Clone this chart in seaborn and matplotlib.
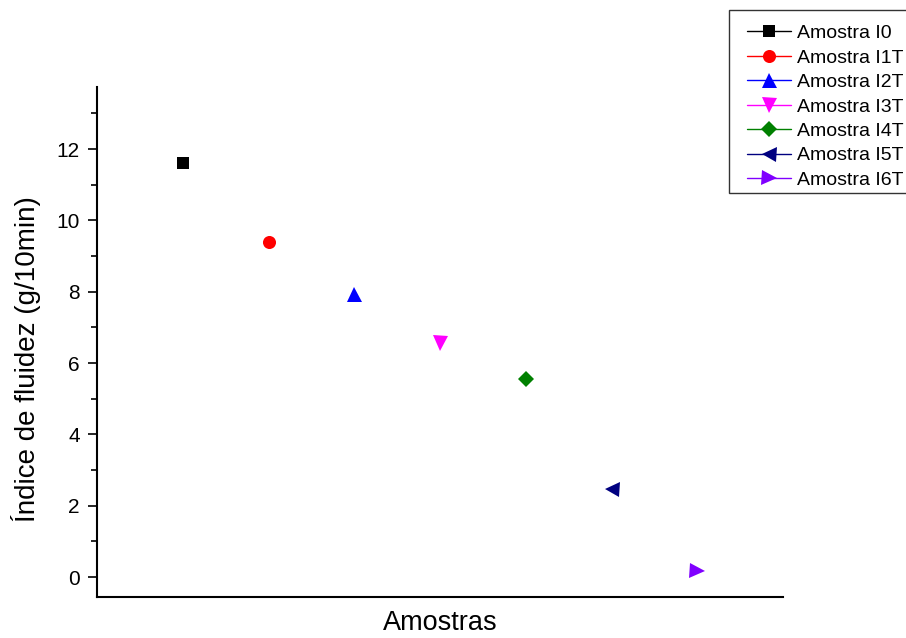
import matplotlib
matplotlib.use("Agg")
import matplotlib.pyplot as plt
import seaborn as sns
import pandas as pd
from matplotlib.ticker import MultipleLocator
from matplotlib.lines import Line2D
from matplotlib.legend_handler import HandlerLine2D

samples = ["Amostra I0", "Amostra I1T", "Amostra I2T", "Amostra I3T", "Amostra I4T", "Amostra I5T", "Amostra I6T"]
positions = [1, 2, 3, 4, 5, 6, 7]
values = [11.6, 9.4, 7.93, 6.55, 5.55, 2.48, 0.18]
colors = ["#000000", "#FF0000", "#0000FF", "#FF00FF", "#008000", "#000080", "#8000FF"]
markers = ["s", "o", "^", "v", "D", "<", ">"]
msizes = [8.6, 9.4, 10.8, 10.8, 8.2, 10.8, 10.8]

sns.set_theme(style="white")
plt.rcParams["font.family"] = ["Liberation Sans", "DejaVu Sans"]
plt.rcParams["text.color"] = "black"
plt.rcParams["axes.labelcolor"] = "black"
plt.rcParams["xtick.color"] = "black"
plt.rcParams["ytick.color"] = "black"

df = pd.DataFrame({"x": positions, "y": values, "Amostra": samples})

fig = plt.figure(figsize=(9.06, 6.38), dpi=100)
ax = fig.add_axes([97/906, 1-597/638, (783-97)/906, (597-87)/638])

for name, c, m, ms in zip(samples, colors, markers, msizes):
    sub = df[df["Amostra"] == name]
    sns.lineplot(data=sub, x="x", y="y", color=c, marker=m, markersize=ms,
                 markeredgewidth=0, linewidth=1, label=name, ax=ax)

ax.set_xlim(0, 8)
ax.set_ylim(-0.56, 13.74)
ax.set_xticks([])
ax.yaxis.set_major_locator(MultipleLocator(2))
ax.yaxis.set_minor_locator(MultipleLocator(1))
ax.tick_params(axis="y", which="major", direction="out", length=6.5, width=1.2, color="black",
               labelsize=15, left=True, pad=6)
ax.tick_params(axis="y", which="minor", direction="out", length=4, width=1.2, color="black", left=True)
for s in ["top", "right"]:
    ax.spines[s].set_visible(False)
for s in ["left", "bottom"]:
    ax.spines[s].set_color("black")
    ax.spines[s].set_linewidth(1.5)

ax.set_xlabel("Amostras", fontsize=19.5)
ax.xaxis.set_label_coords(0.5, (597-630)/510)
ax.xaxis.label.set_va("baseline")
ax.set_ylabel("Índice de fluidez (g/10min)", fontsize=20)
ax.yaxis.set_label_coords((26-97)/686, (597-359)/510)
ax.yaxis.label.set_va("center")
ax.yaxis.label.set_ha("center")
ax.yaxis.label.set_rotation_mode("anchor")

handles, labels = ax.get_legend_handles_labels()
ax.get_legend().remove()
leg = fig.legend(handles, labels, loc="upper left", bbox_to_anchor=(729/906, 1-10/638),
                 frameon=True, fancybox=False, fontsize=14, handlelength=3.0,
                 borderpad=0.2, labelspacing=0.35, handletextpad=0.3, borderaxespad=0,
                 title=" ", title_fontsize=3,
                 handler_map={Line2D: HandlerLine2D(xpad=0.72)})
leg.get_frame().set_edgecolor("black")
leg.get_frame().set_linewidth(1)

fig.savefig("out.png", dpi=100)
